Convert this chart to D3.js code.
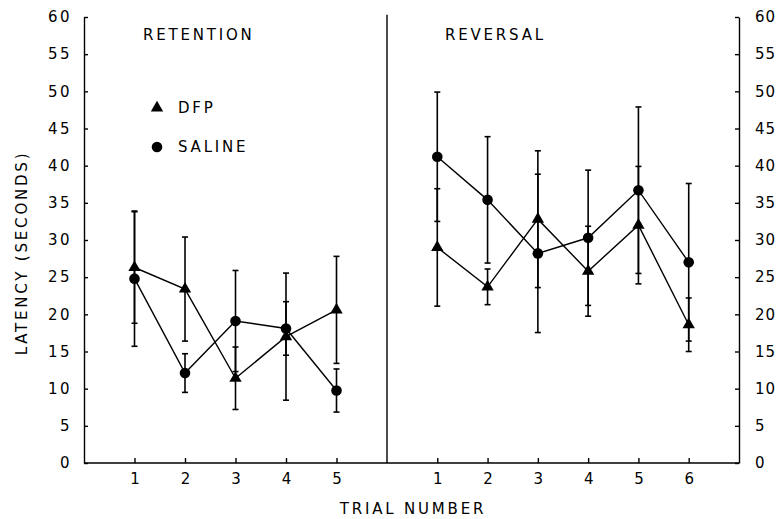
<!DOCTYPE html>
<html>
<head>
<meta charset="utf-8">
<script src="https://cdn.jsdelivr.net/npm/d3@7"></script>
<style>
  body { margin: 0; background: #fff; }
  text { font-family: "DejaVu Sans", sans-serif; fill: #000; }
</style>
</head>
<body>
<div id="chart"></div>
<script>
// Constants for the chart
const CHART_WIDTH = 778;
const CHART_HEIGHT = 519;

// data (mean latency, +/- error)
const retentionTrials = [1, 2, 3, 4, 5];
const reversalTrials = [1, 2, 3, 4, 5, 6];

const retDfp = [26.3, 23.4, 11.4, 17.0, 20.6];
const retDfpErr = [7.5, 7.0, 4.2, 8.55, 7.2];
const retSaline = [24.8, 12.1, 19.1, 18.1, 9.75];
const retSalineErr = [9.1, 2.6, 6.8, 3.6, 2.9];

const revDfp = [29.0, 23.7, 32.8, 25.8, 32.0, 18.6];
const revDfpErr = [7.9, 2.4, 9.2, 6.05, 7.9, 3.6];
const revSaline = [41.2, 35.4, 28.2, 30.3, 36.7, 27.0];
const revSalineErr = [8.7, 8.5, 10.65, 9.1, 11.2, 10.6];

const yTicks = [0, 5, 10, 15, 20, 25, 30, 35, 40, 45, 50, 55, 60];

var svg = d3.select("#chart")
  .append("svg")
  .attr("width", CHART_WIDTH)
  .attr("height", CHART_HEIGHT);

// scales: left panel spans 0..6, right panel 0..7 on the same unit width
var xLeft = d3.scaleLinear().domain([0, 6]).range([84, 387]);
var xRight = d3.scaleLinear().domain([0, 7]).range([387, 739]);
var y = d3.scaleLinear().domain([0, 60]).range([463, 17]);

function styleAxis(g, spacing) {
  g.selectAll("line").attr("stroke", "#000").attr("stroke-width", 1.4);
  g.selectAll("text").style("font-size", "15px").style("letter-spacing", spacing + "px");
}

// y axes
var gLeftY = svg.append("g").attr("transform", "translate(" + xLeft(0) + ",0)")
  .call(d3.axisLeft(y).tickValues(yTicks).tickSizeInner(-4).tickSizeOuter(0).tickPadding(12));
gLeftY.select(".domain").attr("stroke", "#000").attr("stroke-width", 1.4);
styleAxis(gLeftY, 2.5);

var gRightY = svg.append("g").attr("transform", "translate(" + xRight(7) + ",0)")
  .call(d3.axisRight(y).tickValues(yTicks).tickSizeInner(-4).tickSizeOuter(0).tickPadding(16));
gRightY.select(".domain").attr("stroke", "#000").attr("stroke-width", 1.4);
styleAxis(gRightY, 1);

// x axes (ticks point inward)
var gLeftX = svg.append("g").attr("transform", "translate(0," + y(0) + ")")
  .call(d3.axisBottom(xLeft).tickValues(retentionTrials).tickFormat(d3.format("d"))
    .tickSizeInner(-5).tickSizeOuter(0).tickPadding(10));
gLeftX.select(".domain").remove();
styleAxis(gLeftX, 0);

var gRightX = svg.append("g").attr("transform", "translate(0," + y(0) + ")")
  .call(d3.axisBottom(xRight).tickValues(reversalTrials).tickFormat(d3.format("d"))
    .tickSizeInner(-5).tickSizeOuter(0).tickPadding(10));
gRightX.select(".domain").remove();
styleAxis(gRightX, 0);

// baseline and panel divider
svg.append("line")
  .attr("x1", xLeft(0)).attr("x2", xRight(7))
  .attr("y1", y(0)).attr("y2", y(0))
  .attr("stroke", "#000").attr("stroke-width", 1.6);

svg.append("line")
  .attr("x1", xLeft(6)).attr("x2", xLeft(6))
  .attr("y1", y(60.3)).attr("y2", y(0))
  .attr("stroke", "#000").attr("stroke-width", 1.4);

// series drawing
function drawSeries(xScale, trials, means, errs, shape) {
  var pts = trials.map(function (t, i) {
    return { t: t, m: means[i], e: errs[i] };
  });

  svg.append("path")
    .datum(pts)
    .attr("fill", "none")
    .attr("stroke", "#000")
    .attr("stroke-width", 1.4)
    .attr("d", d3.line()
      .x(function (d) { return xScale(d.t); })
      .y(function (d) { return y(d.m); }));

  var eb = svg.append("g").selectAll("g")
    .data(pts)
    .enter()
    .append("g")
    .attr("stroke", "#000");

  eb.append("line")
    .attr("x1", function (d) { return xScale(d.t); })
    .attr("x2", function (d) { return xScale(d.t); })
    .attr("y1", function (d) { return y(d.m - d.e); })
    .attr("y2", function (d) { return y(d.m + d.e); })
    .attr("stroke-width", 1.6);

  [-1, 1].forEach(function (s) {
    eb.append("line")
      .attr("x1", function (d) { return xScale(d.t) - 3; })
      .attr("x2", function (d) { return xScale(d.t) + 3; })
      .attr("y1", function (d) { return y(d.m + s * d.e); })
      .attr("y2", function (d) { return y(d.m + s * d.e); })
      .attr("stroke-width", 1.6);
  });

  if (shape === "circle") {
    svg.append("g").selectAll("circle")
      .data(pts)
      .enter()
      .append("circle")
      .attr("cx", function (d) { return xScale(d.t); })
      .attr("cy", function (d) { return y(d.m); })
      .attr("r", 5.3)
      .attr("fill", "#000");
  } else {
    svg.append("g").selectAll("path")
      .data(pts)
      .enter()
      .append("path")
      .attr("d", d3.symbol().type(d3.symbolTriangle).size(66))
      .attr("transform", function (d) {
        return "translate(" + xScale(d.t) + "," + y(d.m) + ")";
      })
      .attr("fill", "#000");
  }
}

drawSeries(xLeft, retentionTrials, retDfp, retDfpErr, "triangle");
drawSeries(xLeft, retentionTrials, retSaline, retSalineErr, "circle");
drawSeries(xRight, reversalTrials, revDfp, revDfpErr, "triangle");
drawSeries(xRight, reversalTrials, revSaline, revSalineErr, "circle");

// panel titles
svg.append("text").attr("x", 143).attr("y", 40)
  .style("font-size", "15px").style("letter-spacing", "2.8px").text("RETENTION");
svg.append("text").attr("x", 445).attr("y", 40)
  .style("font-size", "15px").style("letter-spacing", "2.8px").text("REVERSAL");

// legend
svg.append("path")
  .attr("d", d3.symbol().type(d3.symbolTriangle).size(66))
  .attr("transform", "translate(157,108)")
  .attr("fill", "#000");
svg.append("text").attr("x", 178).attr("y", 113)
  .style("font-size", "15px").style("letter-spacing", "2.8px").text("DFP");
svg.append("circle").attr("cx", 157).attr("cy", 147).attr("r", 5.3).attr("fill", "#000");
svg.append("text").attr("x", 178).attr("y", 152)
  .style("font-size", "15px").style("letter-spacing", "2.8px").text("SALINE");

// axis titles
svg.append("text")
  .attr("x", 413).attr("y", 514)
  .attr("text-anchor", "middle")
  .style("font-size", "15px").style("letter-spacing", "2.8px")
  .text("TRIAL NUMBER");

svg.append("text")
  .attr("transform", "translate(27,253) rotate(-90)")
  .attr("text-anchor", "middle")
  .style("font-size", "15px").style("letter-spacing", "2.8px")
  .text("LATENCY (SECONDS)");
</script>
</body>
</html>
